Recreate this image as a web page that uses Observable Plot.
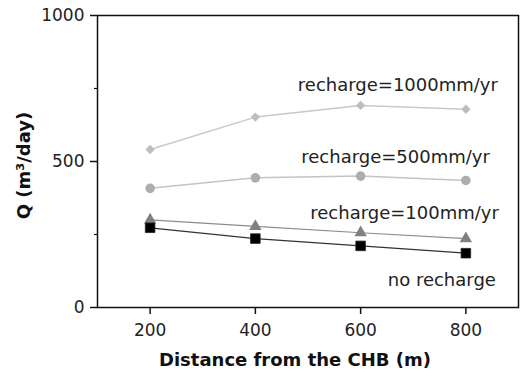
<!DOCTYPE html>
<html>
<head>
<meta charset="utf-8">
<script src="https://cdn.jsdelivr.net/npm/d3@7"></script>
<script src="https://cdn.jsdelivr.net/npm/@observablehq/plot@0.6"></script>
<style>
  html, body { margin: 0; padding: 0; background: #fff; }
  #chart svg { display: block; }
</style>
</head>
<body>
<div id="chart"></div>
<script>
const distances = [200, 400, 600, 800];
const seriesNames = ["recharge=1000mm/yr", "recharge=500mm/yr", "recharge=100mm/yr", "no recharge"];
const q1000 = [541, 652, 692, 679];
const q500 = [408, 444, 450, 435];
const q100 = [300, 278, 256, 236];
const q0 = [273, 236, 211, 186];
const xTicks = [200, 400, 600, 800];
const yTicks = [0, 500, 1000];
const yMinorTicks = [250, 750];

const values = [q1000, q500, q100, q0];
const styles = [
  {line: "#c8c8c8", fill: "#bdbdbd", symbol: "diamond2", r: 4.2, lw: 1.5, dx: 32, dy: -24},
  {line: "#c4c4c4", fill: "#adadad", symbol: "circle", r: 4.8, lw: 1.5, dx: 24, dy: -23},
  {line: "#8c8c8c", fill: "#808080", symbol: "triangle", r: 4.6, lw: 1.2, dx: 33, dy: -25},
  {line: "#333333", fill: "#000000", symbol: "square", r: 5.4, lw: 1.2, dx: 30, dy: 27}
];

const rows = [];
seriesNames.forEach((s, i) => distances.forEach((d, j) => rows.push({series: s, idx: i, x: d, y: values[i][j]})));

const marks = [];
styles.forEach((st, i) => {
  const data = rows.filter(r => r.idx === i);
  marks.push(Plot.line(data, {x: "x", y: "y", stroke: st.line, strokeWidth: st.lw}));
});
styles.forEach((st, i) => {
  const data = rows.filter(r => r.idx === i);
  marks.push(Plot.dot(data, {x: "x", y: "y", symbol: () => st.symbol, fill: st.fill, stroke: i === 3 ? "#222" : "none", strokeWidth: 0.8, r: st.r}));
  const last = data.slice(-1);
  marks.push(Plot.text(last, {x: "x", y: "y", text: "series", textAnchor: "end", dx: st.dx, dy: st.dy, fontSize: 18, fill: "#222"}));
});

const chart = Plot.plot({
  width: 520,
  height: 373,
  marginLeft: 97,
  marginRight: 2,
  marginTop: 15,
  marginBottom: 66,
  style: {fontFamily: "'DejaVu Sans', Verdana, sans-serif", fontSize: "17px", color: "#222", background: "#fff"},
  x: {domain: [100, 900]},
  y: {domain: [0, 1000]},
  symbol: {type: "identity"},
  marks: [
    Plot.axisX({ticks: xTicks, tickSize: 7, tickPadding: 9, label: null, stroke: "#111", strokeWidth: 1.5, fontSize: 17}),
    Plot.axisY({ticks: yTicks, tickSize: 7, tickPadding: 6, tickFormat: d3.format("d"), label: null, stroke: "#111", strokeWidth: 1.5, fontSize: 17}),
    Plot.axisY({ticks: yMinorTicks, tickSize: 3, text: null, label: null, stroke: "#111", strokeWidth: 1.2}),
    Plot.frame({stroke: "#111", strokeWidth: 1.5}),
    ...marks,
    Plot.text(["Distance from the CHB (m)"], {frameAnchor: "bottom", dy: 58, dx: -13, fontSize: 18, fontWeight: "bold", fill: "#111"}),
    Plot.text(["Q (m³/day)"], {frameAnchor: "left", textAnchor: "middle", dx: -73, dy: 4, rotate: -90, fontSize: 18, fontWeight: "bold", fill: "#111"})
  ]
});
document.getElementById("chart").appendChild(chart);
</script>
</body>
</html>
